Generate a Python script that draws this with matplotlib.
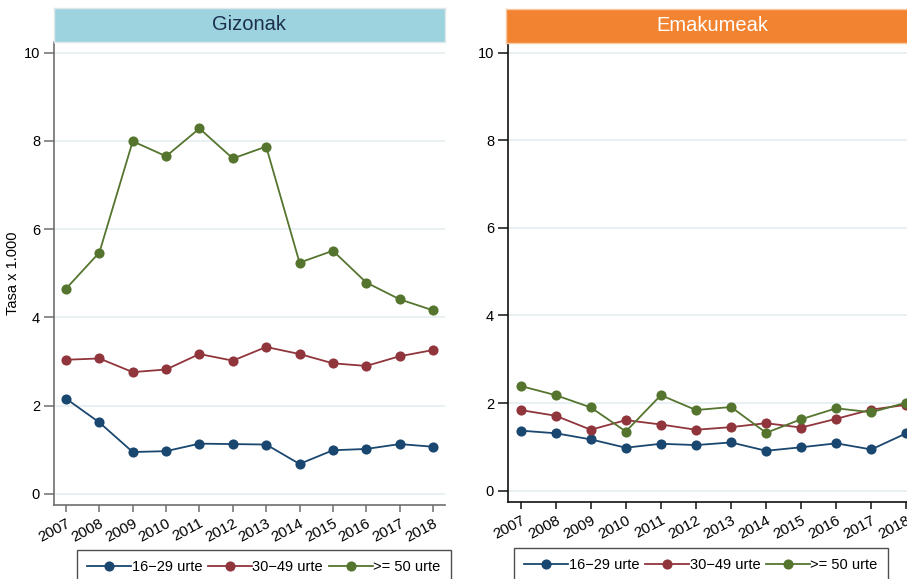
import matplotlib
matplotlib.use("Agg")
import matplotlib.pyplot as plt

plt.rcParams['font.family'] = ['Liberation Sans', 'DejaVu Sans']

years = [2007, 2008, 2009, 2010, 2011, 2012, 2013, 2014, 2015, 2016, 2017, 2018]
year_labels = [str(y) for y in years]
series_labels = ["16\u221229 urte", "30\u221249 urte", ">= 50 urte"]
panel_titles = ["Gizonak", "Emakumeak"]

men_16_29 = [2.16, 1.62, 0.95, 0.97, 1.14, 1.13, 1.12, 0.68, 0.99, 1.02, 1.13, 1.07]
men_30_49 = [3.04, 3.07, 2.76, 2.82, 3.17, 3.02, 3.33, 3.17, 2.96, 2.90, 3.12, 3.26]
men_50 = [4.65, 5.47, 7.99, 7.65, 8.28, 7.60, 7.87, 5.24, 5.51, 4.79, 4.41, 4.16]

women_16_29 = [1.37, 1.31, 1.17, 0.98, 1.07, 1.04, 1.10, 0.91, 0.99, 1.08, 0.94, 1.31]
women_30_49 = [1.84, 1.71, 1.39, 1.61, 1.51, 1.39, 1.45, 1.54, 1.44, 1.64, 1.85, 1.96]
women_50 = [2.39, 2.18, 1.90, 1.35, 2.18, 1.84, 1.91, 1.32, 1.63, 1.88, 1.79, 2.01]

yticks = [0, 2, 4, 6, 8, 10]
colors = ["#1a476f", "#90353b", "#55752f"]

W, H = 907, 579
fig = plt.figure(figsize=(W / 100, H / 100), dpi=100)


def fbox(x0, y0, x1, y1):
    # pixel box (top-left origin) -> figure fraction rect
    return [x0 / W, 1 - y1 / H, (x1 - x0) / W, (y1 - y0) / H]


panels = [
    dict(ax=fbox(54, 41.5, 445, 505), strip=fbox(54, 8.3, 445, 41.5),
         data=[men_16_29, men_30_49, men_50], title=panel_titles[0],
         sc="#9dd3df", tc="#1c2f4f", spine="#6e6e6e", ylabel="Tasa x 1.000",
         ylim=(-0.25, 10.25), legend=(77, 550)),
    dict(ax=fbox(508, 42.7, 919, 502), strip=fbox(506, 9, 919, 42.7),
         data=[women_16_29, women_30_49, women_50], title=panel_titles[1],
         sc="#f28330", tc="white", spine="#111111", ylabel=None,
         ylim=(-0.26, 10.23), legend=(514, 548)),
]

for p in panels:
    ax = fig.add_axes(p["ax"])
    for vals, c, lab in zip(p["data"], colors, series_labels):
        ax.plot(years, vals, color=c, lw=1.3, marker="o", ms=7.3, label=lab,
                markeredgewidth=0, zorder=3)
    ax.set_xlim(2006.64, 2018.36)
    ax.set_ylim(*p["ylim"])
    ax.set_yticks(yticks)
    ax.set_yticklabels([str(t) for t in yticks], fontsize=10.5)
    ax.set_xticks(years)
    ax.set_xticklabels(year_labels, fontsize=11, rotation=28, ha="right",
                       rotation_mode="anchor")
    for lbl in ax.get_xticklabels():
        lbl.set_va("top")
    ax.tick_params(axis="x", length=5, width=1.1, color=p["spine"], pad=3)
    ax.tick_params(axis="y", length=7, width=1.1, color=p["spine"], pad=3)
    for s in ["top", "right"]:
        ax.spines[s].set_visible(False)
    for s in ["left", "bottom"]:
        ax.spines[s].set_color(p["spine"])
        ax.spines[s].set_linewidth(1.2)
    ax.grid(axis="y", color="#e3eef0", lw=1.2, zorder=0)
    ax.set_axisbelow(True)
    if p["ylabel"]:
        ax.set_ylabel(p["ylabel"], fontsize=10.5, labelpad=3)

    sax = fig.add_axes(p["strip"])
    sax.set_facecolor(p["sc"])
    sax.set_xticks([])
    sax.set_yticks([])
    for s in sax.spines.values():
        s.set_color("#e0e8ea" if p["tc"] != "white" else "#f7c9a5")
        s.set_linewidth(1)
    sax.text(0.5, 0.5, p["title"], ha="center", va="center", fontsize=14.5,
             color=p["tc"], transform=sax.transAxes)

    handles, labels = ax.get_legend_handles_labels()
    lx, ly = p["legend"]
    leg = fig.legend(handles, labels, loc="upper left",
                     bbox_to_anchor=(lx / W, 1 - ly / H), ncol=3,
                     fontsize=10.5, frameon=True, fancybox=False,
                     edgecolor="#222222", borderaxespad=0, handlelength=3.0,
                     handletextpad=0.05, columnspacing=0.4, borderpad=0.7)
    leg.get_frame().set_linewidth(1)

fig.savefig("out.png", dpi=100)
